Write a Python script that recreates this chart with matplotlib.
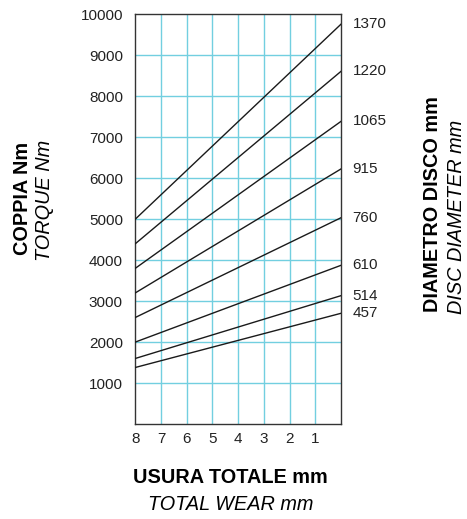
import matplotlib.pyplot as plt

plt.rcParams['font.family'] = ['Liberation Sans', 'DejaVu Sans']

# usura totale (mm) agli estremi delle rette
wear = [8, 0]
# diametro disco (mm) e coppia (Nm) a usura 8 e a usura 0
diametri = ['1370', '1220', '1065', '915', '760', '610', '514', '457']
coppia_8 = [5000, 4400, 3800, 3200, 2600, 2000, 1600, 1380]
coppia_0 = [9750, 8600, 7380, 6220, 5030, 3870, 3130, 2700]

x_ticks = [8, 7, 6, 5, 4, 3, 2, 1]
y_ticks = [1000, 2000, 3000, 4000, 5000, 6000, 7000, 8000, 9000, 10000]

fig = plt.figure(figsize=(4.67, 5.19), dpi=100)
ax = fig.add_axes([0.290, 0.183, 0.440, 0.790])

grid_col = '#72cfe0'
for xv in x_ticks[1:]:
    ax.axvline(xv, color=grid_col, lw=1.0, zorder=1)
for yv in y_ticks[:-1]:
    ax.axhline(yv, color=grid_col, lw=1.0, zorder=1)

for d, a, b in zip(diametri, coppia_8, coppia_0):
    ax.plot(wear, [a, b], color='#1a1a1a', lw=1.0, zorder=3)
    ax.text(-0.45, b, d, fontsize=11, va='center', ha='left', color='#222222')

ax.set_xlim(8, 0)
ax.set_ylim(0, 10000)
ax.set_xticks(x_ticks)
ax.set_yticks(y_ticks)
ax.tick_params(length=0, labelsize=11, colors='#222222')
ax.tick_params(axis='y', pad=9)
ax.tick_params(axis='x', pad=6)
for s in ax.spines.values():
    s.set_color('#333333')
    s.set_linewidth(1.0)

fs = 14.3
fig.text(0.493, 0.079, 'USURA TOTALE mm', fontsize=fs, fontweight='bold',
         ha='center', va='center')
fig.text(0.493, 0.027, 'TOTAL WEAR mm', fontsize=fs, style='italic',
         ha='center', va='center')
fig.text(0.049, 0.618, 'COPPIA Nm', fontsize=fs, fontweight='bold',
         rotation=90, ha='center', va='center')
fig.text(0.096, 0.613, 'TORQUE Nm', fontsize=fs, style='italic',
         rotation=90, ha='center', va='center')
fig.text(0.927, 0.607, 'DIAMETRO DISCO mm', fontsize=fs, fontweight='bold',
         rotation=90, ha='center', va='center')
fig.text(0.978, 0.582, 'DISC DIAMETER mm', fontsize=fs, style='italic',
         rotation=90, ha='center', va='center')

fig.savefig('out.png', dpi=100)
